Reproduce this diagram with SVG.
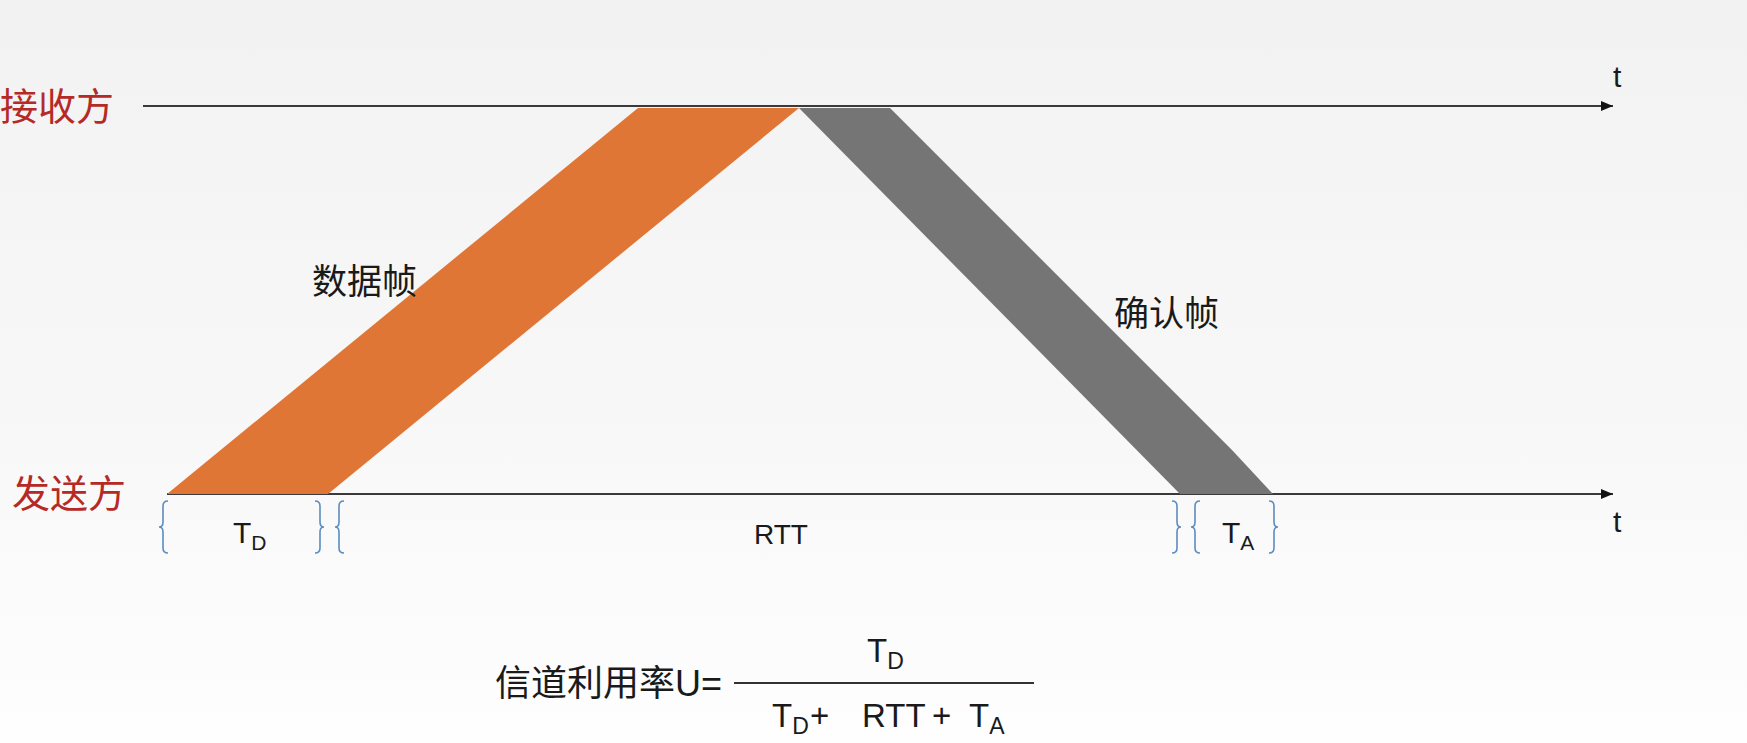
<svg xmlns="http://www.w3.org/2000/svg" width="1747" height="743" viewBox="0 0 1747 743">
<defs>
<linearGradient id="bg" x1="0" y1="0" x2="0" y2="1">
<stop offset="0" stop-color="#f2f2f2"/>
<stop offset="0.6" stop-color="#f8f8f8"/>
<stop offset="1" stop-color="#fefefe"/>
</linearGradient>
<marker id="arr" viewBox="0 0 12 10" refX="12" refY="5" markerWidth="12" markerHeight="10" markerUnits="userSpaceOnUse" orient="auto">
<path d="M0,0 L12,5 L0,10 Z" fill="#111"/>
</marker>
<style>
.axis{stroke:#3a3a3a;stroke-width:2;fill:none}
.role{font-family:"Noto Sans CJK SC",sans-serif;font-size:38px;fill:#b52a26}
.cjk{font-family:"Noto Sans CJK SC",sans-serif;font-size:35px;fill:#1a1a1a}
.lat{font-family:"Liberation Sans",sans-serif;font-size:30px;fill:#1a1a1a}
.rtt{font-size:28px}
.fl{font-family:"Liberation Sans",sans-serif;font-size:33px;fill:#1a1a1a}
.fc{font-family:"Noto Sans CJK SC",sans-serif;font-size:36px;fill:#1a1a1a}
.sub{font-size:21px}
.fsub{font-size:23px}
.brace{stroke:#5d8cc0;stroke-width:1.6;fill:none}
</style>
</defs>
<rect x="0" y="0" width="1747" height="743" fill="url(#bg)"/>

<g id="connectors">
<line class="axis" x1="143" y1="106" x2="1613" y2="106" marker-end="url(#arr)"/>
<line class="axis" x1="167" y1="494" x2="1613" y2="494" marker-end="url(#arr)"/>
</g>

<g id="data-frame">
<polygon points="638,108 799,108 328,494 167,494" fill="#e07636"/>
<text class="cjk" x="312" y="294">数据帧</text>
</g>

<g id="ack-frame">
<polygon points="799,108 890,108 1232,450 1273,494 1180,494" fill="#757575"/>
<text class="cjk" x="1114" y="326">确认帧</text>
</g>

<g id="receiver">
<text class="role" x="0" y="120">接收方</text>
<text class="lat" x="1613" y="87">t</text>
</g>

<g id="sender">
<text class="role" x="12" y="507">发送方</text>
<text class="lat" x="1613" y="532">t</text>
</g>

<g id="intervals">
<path class="brace" d="M168,501 Q163,501 163,506 L163,522 Q163,527 159,527 Q163,527 163,532 L163,548 Q163,553 168,553"/>
<path class="brace" d="M315,501 Q320,501 320,506 L320,522 Q320,527 324,527 Q320,527 320,532 L320,548 Q320,553 315,553"/>
<path class="brace" d="M344,501 Q339,501 339,506 L339,522 Q339,527 335,527 Q339,527 339,532 L339,548 Q339,553 344,553"/>
<path class="brace" d="M1172,501 Q1177,501 1177,506 L1177,522 Q1177,527 1181,527 Q1177,527 1177,532 L1177,548 Q1177,553 1172,553"/>
<path class="brace" d="M1200,501 Q1195,501 1195,506 L1195,522 Q1195,527 1191,527 Q1195,527 1195,532 L1195,548 Q1195,553 1200,553"/>
<path class="brace" d="M1269,501 Q1274,501 1274,506 L1274,522 Q1274,527 1278,527 Q1274,527 1274,532 L1274,548 Q1274,553 1269,553"/>
<text class="lat" x="233" y="543">T<tspan class="sub" dy="7">D</tspan></text>
<text class="lat rtt" x="754" y="544">RTT</text>
<text class="lat" x="1222" y="543">T<tspan class="sub" dy="7">A</tspan></text>
</g>

<g id="formula">
<text class="fc" x="495" y="696">信道利用率<tspan font-family="Liberation Sans, sans-serif">U=</tspan></text>
<line x1="734" y1="683" x2="1034" y2="683" stroke="#333" stroke-width="2"/>
<text class="fl" x="867" y="662">T<tspan class="fsub" dy="7">D</tspan></text>
<text class="fl" x="772" y="727">T<tspan class="fsub" dy="7">D</tspan></text>
<text class="fl" x="810" y="727">+</text>
<text class="fl rtt" x="862" y="727">RTT</text>
<text class="fl" x="932" y="727">+</text>
<text class="fl" x="969" y="727">T<tspan class="fsub" dy="7">A</tspan></text>
</g>
</svg>
